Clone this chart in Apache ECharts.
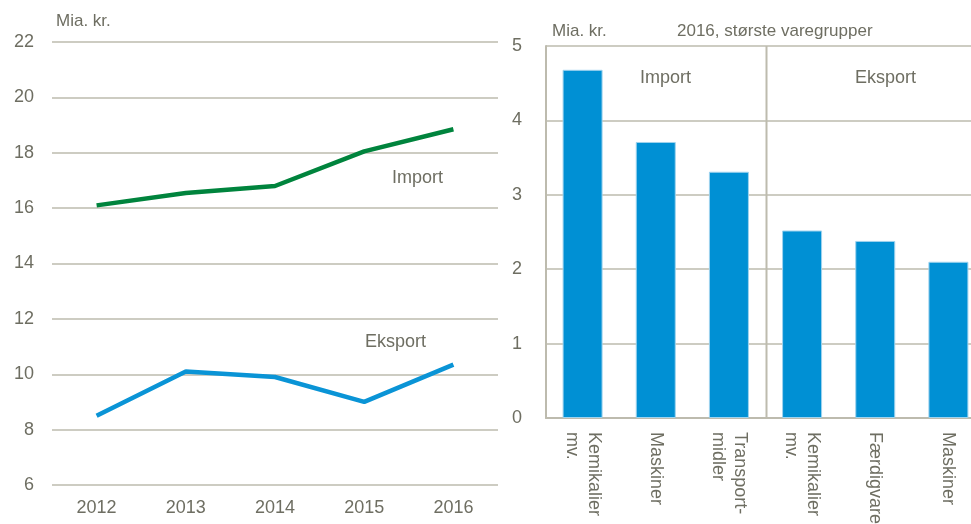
<!DOCTYPE html>
<html>
<head>
<meta charset="utf-8">
<script src="https://cdn.jsdelivr.net/npm/echarts@6/dist/echarts.min.js"></script>
<style>
  html, body { margin: 0; padding: 0; background: #fff; }
  #chart { width: 971px; height: 524px; }
</style>
</head>
<body>
<div id="chart"></div>
<script>
// venstre: udvikling 2012-2016
const years = ['2012', '2013', '2014', '2015', '2016']
const importValues = [16.1, 16.55, 16.8, 18.05, 18.85]
const eksportValues = [8.5, 10.1, 9.9, 9.0, 10.35]

// højre: 2016, største varegrupper
const groups = ['Kemikalier\nmv.', 'Maskiner', 'Transport-\nmidler', 'Kemikalier\nmv.', 'Færdigvarer', 'Maskiner']
const groupValues = [4.68, 3.71, 3.31, 2.52, 2.38, 2.10]

const textColor = '#6e6e62'
const gridColor = '#bdbbae'
const font = 'Liberation Sans, Arial, sans-serif'

const chart = echarts.init(document.getElementById('chart'))

const option = {
  animation: false,
  textStyle: { fontFamily: font },
  title: [
    { text: 'Mia. kr.', left: 51, top: 8, textStyle: { fontSize: 17, fontWeight: 'normal', color: textColor, fontFamily: font } },
    { text: 'Mia. kr.', left: 547, top: 18, textStyle: { fontSize: 17, fontWeight: 'normal', color: textColor, fontFamily: font } },
    { text: '2016, største varegrupper', left: 672, top: 18, textStyle: { fontSize: 17, fontWeight: 'normal', color: textColor, fontFamily: font } }
  ],
  graphic: [
    { id: 't1', type: 'text', left: 392, top: 169, style: { text: 'Import', fontSize: 18, fill: textColor, fontFamily: font } },
    { id: 't2', type: 'text', left: 365, top: 333, style: { text: 'Eksport', fontSize: 18, fill: textColor, fontFamily: font } },
    { id: 't3', type: 'text', left: 640, top: 69, style: { text: 'Import', fontSize: 18, fill: textColor, fontFamily: font } },
    { id: 't4', type: 'text', left: 855, top: 69, style: { text: 'Eksport', fontSize: 18, fill: textColor, fontFamily: font } }
  ],
  grid: [
    { left: 52, right: 473, top: 42, bottom: 39, outerBoundsMode: 'none' },
    { left: 546, right: -14, top: 46, bottom: 106, outerBoundsMode: 'none' }
  ],
  xAxis: [
    {
      type: 'category',
      gridIndex: 0,
      data: years,
      axisLine: { show: false },
      axisTick: { show: false },
      axisLabel: { fontSize: 18, color: textColor, margin: 14 }
    },
    {
      type: 'category',
      gridIndex: 1,
      data: groups,
      axisLine: { show: true, lineStyle: { color: gridColor, width: 2 } },
      axisTick: { show: false },
      axisLabel: {
        fontSize: 18,
        color: textColor,
        rotate: -90,
        interval: 0,
        margin: 14,
        lineHeight: 22
      }
    }
  ],
  yAxis: [
    {
      type: 'value',
      gridIndex: 0,
      min: 6,
      max: 22,
      interval: 2,
      axisLine: { show: false },
      axisTick: { show: false },
      splitLine: { lineStyle: { color: gridColor, width: 1.5 } },
      axisLabel: { fontSize: 18, color: textColor, margin: 18 }
    },
    {
      type: 'value',
      gridIndex: 1,
      min: 0,
      max: 5,
      interval: 1,
      axisLine: { show: true, lineStyle: { color: gridColor, width: 2 } },
      axisTick: { show: false },
      splitLine: { lineStyle: { color: gridColor, width: 1.5 } },
      axisLabel: { fontSize: 18, color: textColor, margin: 24 }
    }
  ],
  series: [
    {
      name: 'Import',
      type: 'line',
      xAxisIndex: 0,
      yAxisIndex: 0,
      data: importValues,
      symbol: 'none',
      lineStyle: { color: '#00843d', width: 4.5 }
    },
    {
      name: 'Eksport',
      type: 'line',
      xAxisIndex: 0,
      yAxisIndex: 0,
      data: eksportValues,
      symbol: 'none',
      lineStyle: { color: '#0a94d6', width: 4.5 }
    },
    {
      name: 'Varegrupper',
      type: 'bar',
      xAxisIndex: 1,
      yAxisIndex: 1,
      data: groupValues,
      barWidth: 40,
      itemStyle: { color: '#0090d4', borderColor: '#9fd3ee', borderWidth: 1 }
    }
  ]
}

chart.setOption(option)

// skillelinje mellem import og eksport, midt mellem 3. og 4. kategori
const xa = chart.convertToPixel({ xAxisIndex: 1 }, 2)
const xb = chart.convertToPixel({ xAxisIndex: 1 }, 3)
const divX = Math.round((xa + xb) / 2) + 0.5
const yTop = chart.convertToPixel({ yAxisIndex: 1 }, 5)
const yBottom = chart.convertToPixel({ yAxisIndex: 1 }, 0)
chart.setOption({
  graphic: [{
    id: 'divider',
    type: 'line',
    z: 1,
    shape: { x1: divX, y1: yTop, x2: divX, y2: yBottom },
    style: { stroke: gridColor, lineWidth: 2 }
  }]
})
</script>
</body>
</html>
